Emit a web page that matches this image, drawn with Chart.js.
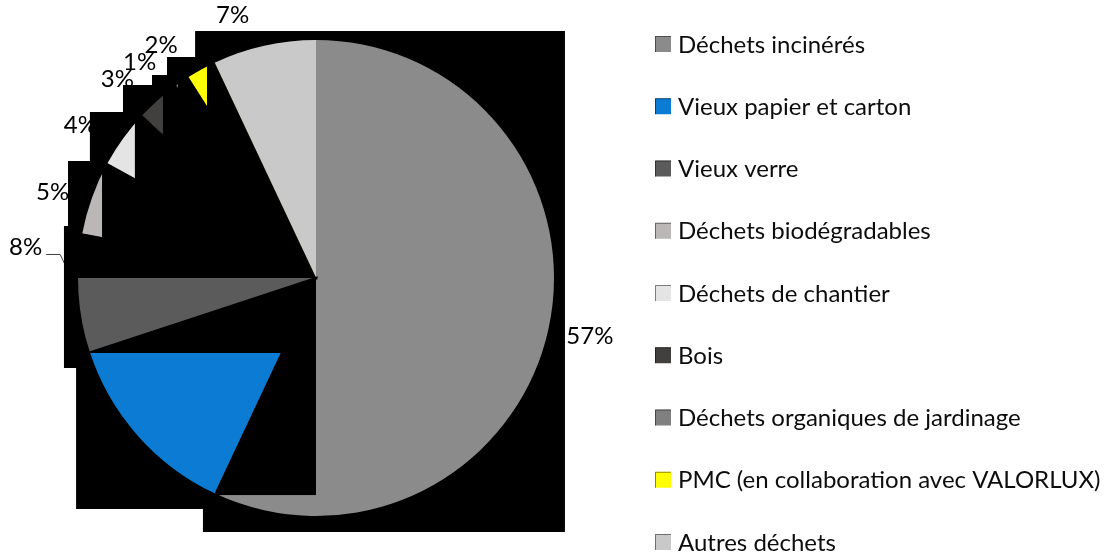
<!DOCTYPE html>
<html>
<head>
<meta charset="utf-8">
<script src="https://cdn.jsdelivr.net/npm/chart.js@4"></script>
<style>
  html, body { margin: 0; padding: 0; background: #ffffff; }
  canvas { display: block; }
</style>
</head>
<body>
<canvas id="wasteChart" width="1113" height="558"></canvas>
<script>
// data
const categories = [
    "Déchets incinérés",
    "Vieux papier et carton",
    "Vieux verre",
    "Déchets biodégradables",
    "Déchets de chantier",
    "Bois",
    "Déchets organiques de jardinage",
    "PMC (en collaboration avec VALORLUX)",
    "Autres déchets"
];
const shares = [57, 13, 8, 5, 4, 3, 1, 2, 7];
const sliceColors = ["#8b8b8b", "#0b7bd3", "#5b5b5b", "#bbb7b6", "#e4e4e4", "#42403e", "#808080", "#ffff00", "#c9c9c9"];

// label placement: angle nudge (deg) and distance beyond the rim (px)
const labelNudge = [-0.6, 0, 9.6, -1.8, -3, -3.6, -5, -4.8, -5];
const labelGap = [42, 42, 54, 39, 43, 43, 41, 42, 38];
const leaderLine = [false, false, true, false, false, false, false, false, false];

// the black backdrop of the source picture, in radius units from the pie centre
const backdrop = [
    [-0.508, -1.038], [1.046, -1.038], [1.046, 1.067], [-0.475, 1.067], [-0.475, 0.971],
    [-1.008, 0.971], [-1.008, 0.378], [-1.059, 0.378], [-1.059, -0.218], [-1.042, -0.218],
    [-1.042, -0.492], [-0.950, -0.492], [-0.950, -0.697], [-0.811, -0.697], [-0.811, -0.811],
    [-0.689, -0.811], [-0.689, -0.853], [-0.626, -0.853], [-0.626, -0.929], [-0.508, -0.929]
];
// black cover inside each slice: [x0, y0, x1, y1] in radius units
const sliceCover = [
    [-2, -2, 0, 0.912],
    [-2, -2, 2, 0.315],
    [-2, -2, 2, 0],
    [-0.899, -2, 2, 2],
    [-0.761, -2, 2, 2],
    [-0.643, -2, 2, 2],
    [-0.580, -2, 2, 2],
    [-0.458, -2, 2, 2],
    null
];

const FONT = "Lato, 'Open Sans', sans-serif";

const artifactPlugin = {
    id: "artifact",
    beforeDatasetsDraw(chart) {
        const ctx = chart.ctx;
        const arcs = chart.getDatasetMeta(0).data;
        const { x: cx, y: cy, outerRadius: r } = arcs[0].getProps(["x", "y", "outerRadius"], true);

        // percentage labels
        ctx.save();
        ctx.font = "24px " + FONT;
        ctx.fillStyle = "#000000";
        ctx.textAlign = "center";
        ctx.textBaseline = "middle";
        arcs.forEach((arc, i) => {
            const { startAngle, endAngle } = arc.getProps(["startAngle", "endAngle"], true);
            const mid = (startAngle + endAngle) / 2;
            const a = mid + labelNudge[i] * Math.PI / 180;
            const d = r + labelGap[i];
            const lx = cx + Math.cos(a) * d;
            const ly = cy + Math.sin(a) * d;
            const txt = shares[i] + "%";
            ctx.fillText(txt, lx, ly);
            if (leaderLine[i]) {
                const w = ctx.measureText(txt).width;
                ctx.beginPath();
                ctx.strokeStyle = "#404040";
                ctx.lineWidth = 1;
                ctx.moveTo(lx + w / 2 + 4, ly + 7);
                ctx.lineTo(lx + w / 2 + 18, ly + 7);
                ctx.lineTo(cx + Math.cos(mid) * r, cy + Math.sin(mid) * r);
                ctx.stroke();
            }
        });
        ctx.restore();

        // black backdrop
        ctx.save();
        ctx.fillStyle = "#000000";
        ctx.beginPath();
        backdrop.forEach((p, i) => {
            const px = cx + p[0] * r, py = cy + p[1] * r;
            if (i === 0) ctx.moveTo(px, py); else ctx.lineTo(px, py);
        });
        ctx.closePath();
        ctx.fill();
        ctx.restore();
    },
    afterDatasetsDraw(chart) {
        const ctx = chart.ctx;
        const arcs = chart.getDatasetMeta(0).data;
        arcs.forEach((arc, i) => {
            const c = sliceCover[i];
            if (!c) return;
            const { x, y, startAngle, endAngle, outerRadius } = arc.getProps(["x", "y", "startAngle", "endAngle", "outerRadius"], true);
            const r = outerRadius;
            // widen towards the previous (also covered) slice to hide the seam
            const pad = i > 0 ? 1.5 / r : 0;
            const back = i > 0 ? 2.5 : 0;
            const mid = (startAngle + endAngle) / 2;
            ctx.save();
            ctx.beginPath();
            ctx.moveTo(x - Math.cos(mid) * back, y - Math.sin(mid) * back);
            ctx.arc(x, y, r + 1, startAngle - pad, endAngle);
            ctx.closePath();
            ctx.clip();
            ctx.fillStyle = "#000000";
            ctx.fillRect(x + c[0] * r, y + c[1] * r, (c[2] - c[0]) * r, (c[3] - c[1]) * r);
            ctx.restore();
        });
    },
    afterDraw(chart) {
        // legend
        const ctx = chart.ctx;
        ctx.save();
        ctx.font = "24px " + FONT;
        ctx.textBaseline = "middle";
        ctx.textAlign = "left";
        categories.forEach((name, i) => {
            const y = 44 + i * 62.25;
            ctx.fillStyle = sliceColors[i];
            ctx.fillRect(655, y - 8, 16, 16);
            ctx.strokeStyle = "rgba(0,0,0,0.45)";
            ctx.lineWidth = 1;
            ctx.beginPath();
            ctx.moveTo(655.5, y + 8);
            ctx.lineTo(655.5, y - 7.5);
            ctx.lineTo(671, y - 7.5);
            ctx.stroke();
            ctx.fillStyle = "#0d0d0d";
            ctx.fillText(name, 678, y + 1);
        });
        ctx.restore();
    }
};

new Chart(document.getElementById("wasteChart"), {
    type: "pie",
    data: {
        labels: categories,
        datasets: [{
            data: shares,
            backgroundColor: sliceColors,
            borderWidth: 0
        }]
    },
    options: {
        responsive: false,
        devicePixelRatio: 1,
        animation: false,
        events: [],
        layout: { padding: { left: 78, top: 40, right: 559, bottom: 42 } },
        plugins: {
            legend: { display: false },
            tooltip: { enabled: false }
        }
    },
    plugins: [artifactPlugin]
});
</script>
</body>
</html>
